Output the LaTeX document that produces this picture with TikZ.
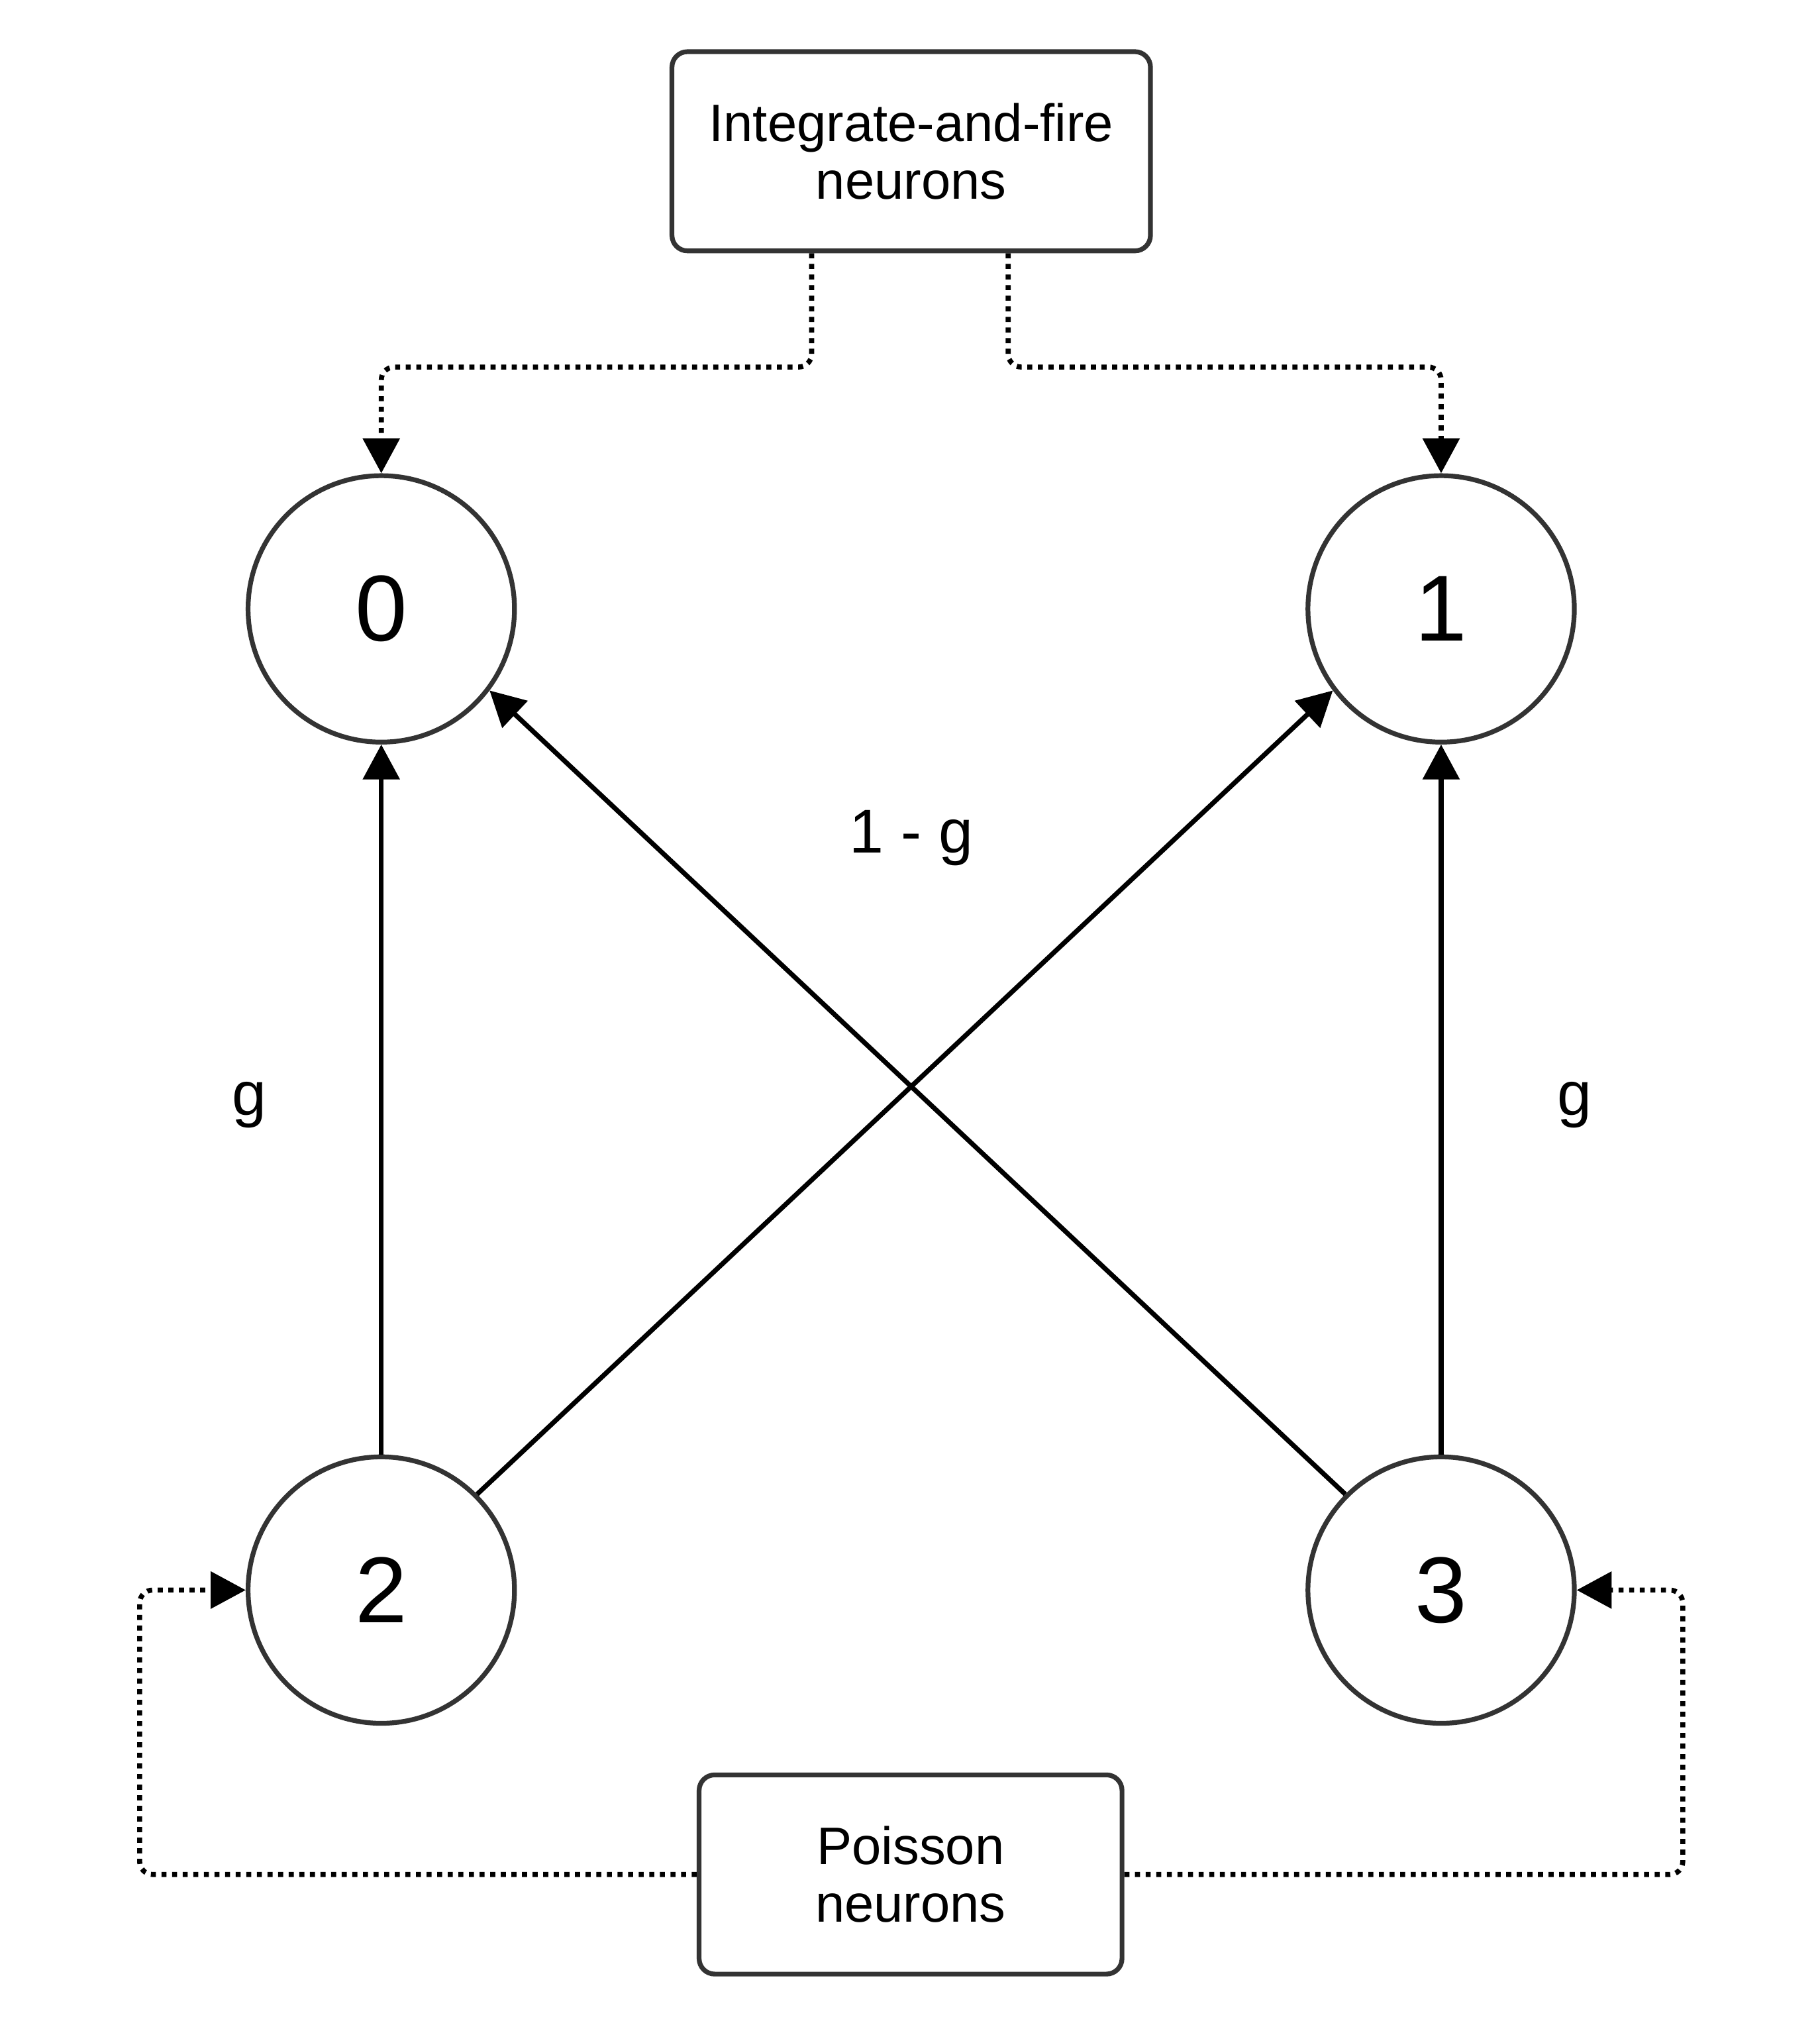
\documentclass[tikz,border=0pt]{standalone}
\usepackage{fontspec}
\setmainfont{Liberation Sans}
\usetikzlibrary{arrows.meta}
\begin{document}
\begin{tikzpicture}[x=0.01cm,y=0.01cm,neuron/.style={circle,draw=black!80,line width=0.037cm,minimum size=2.06cm,inner sep=0pt,font=\fontsize{20.6}{24}\selectfont},group/.style={rectangle,rounded corners=0.12cm,draw=black!80,line width=0.037cm,minimum height=1.54cm,align=center,font=\fontsize{11.6}{12.7}\selectfont},link/.style={-{Triangle[length=0.27cm,width=0.28cm]},line width=0.037cm},feed/.style={link,line width=0.039cm,dash pattern=on 0.039cm off 0.043cm,rounded corners=0.1cm},weight/.style={font=\fontsize{13.6}{16}\selectfont}]
                \useasboundingbox (0,0) rectangle (1408,-1568);
                % neurons
                \foreach \n/\x/\y in {0/295/471,1/1115/471,2/295/1230,3/1115/1230}
                    \node[neuron] (n\n) at (\x,-\y) {\n};
                \node[group,minimum width=3.7cm] (ifn) at (705,-117) {Integrate-and-fire\\neurons};
                \node[group,minimum width=3.27cm] (pn) at (704.5,-1450) {Poisson\\neurons};
                % weights
                \node[weight] (wl) at (193,-855) {g};
                \node[weight] (wr) at (1218,-855) {g};
                \node[weight] (wx) at (705,-648) {1 - g};
                % connections
                \draw[link] (n2) -- (n0);
                \draw[link] (n3) -- (n1);
                \draw[link] (n2.45) -- (n1.217);
                \draw[link] (n3.135) -- (n0.323);
                % external input
                \draw[feed] ([xshift=-0.77cm]ifn.south) -- ++(0,-88) -| (n0.north);
                \draw[feed] ([xshift=0.75cm]ifn.south) -- ++(0,-88) -| (n1.north);
                \draw[feed] (pn.west) -| ([xshift=-0.82cm]n2.west) -- (n2.west);
                \draw[feed] (pn.east) -| ([xshift=0.82cm]n3.east) -- (n3.east);
            \end{tikzpicture}
\end{document}
